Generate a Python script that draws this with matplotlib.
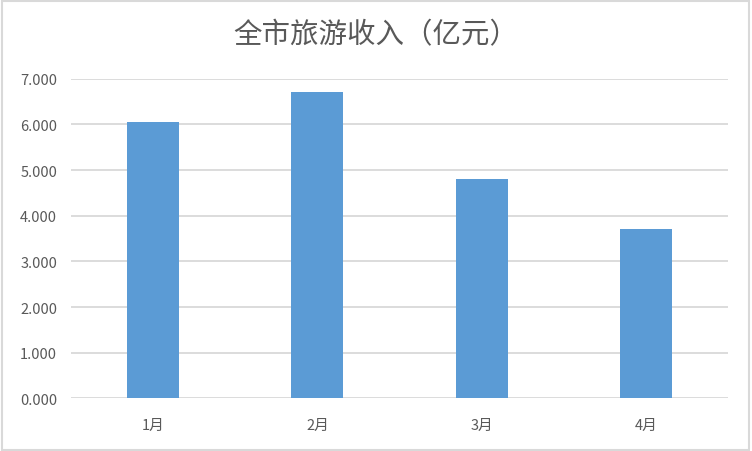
import matplotlib.pyplot as plt
from matplotlib.ticker import FormatStrFormatter
from matplotlib.patches import Rectangle

plt.rcParams['font.family'] = ['Noto Sans CJK SC', 'DejaVu Sans']

months = ["1月", "2月", "3月", "4月"]
income = [6.05, 6.71, 4.80, 3.71]
title = "全市旅游收入（亿元）"

fig = plt.figure(figsize=(7.52, 4.52), dpi=100)
ax = fig.add_axes([0.0944, 0.1162, 0.8736, 0.7075])

ax.bar(range(len(months)), income, width=0.316, color="#5B9BD5", zorder=3)
ax.set_xlim(-0.5, len(months) - 0.5)
ax.set_ylim(0, 7)
ax.set_yticks(range(0, 8))
ax.yaxis.set_major_formatter(FormatStrFormatter("%.3f"))
ax.set_xticks(range(len(months)))
ax.set_xticklabels(months)

ax.grid(axis="y", color="#D9D9D9", linewidth=1.3, zorder=0)
for s in ax.spines.values():
    s.set_visible(False)
ax.tick_params(axis="both", length=0, colors="#595959", labelsize=10.5)
ax.tick_params(axis="x", pad=14)
ax.tick_params(axis="y", pad=10)

fig.text(0.5, 0.922, title, ha="center", va="center", fontsize=20.5,
         color="#595959", fontweight="light")

fig.patches.append(Rectangle((0.002, 0.003), 0.994, 0.993, transform=fig.transFigure,
                             fill=False, edgecolor="#D9D9D9", linewidth=1.5))

fig.savefig("out.png", dpi=100)
